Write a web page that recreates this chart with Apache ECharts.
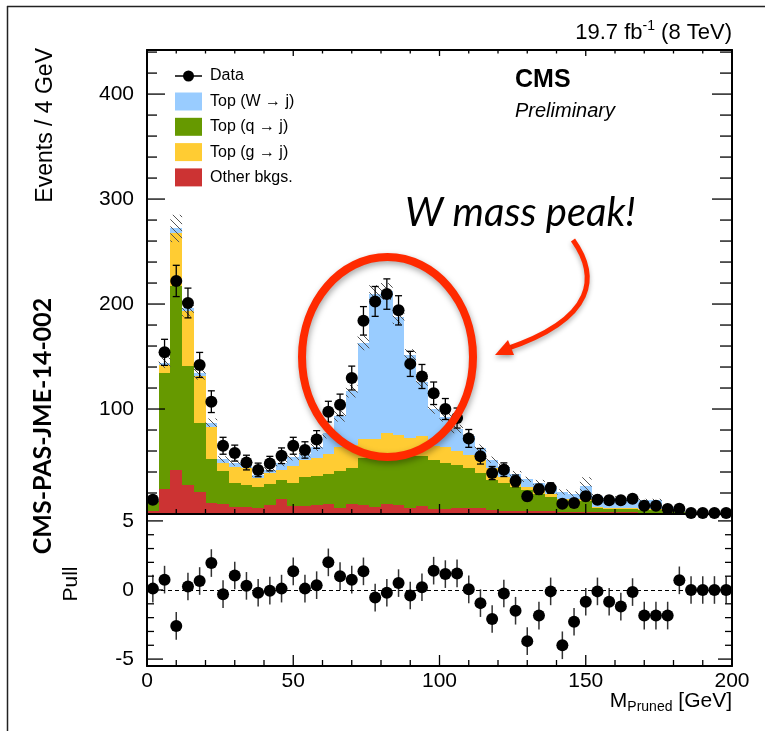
<!DOCTYPE html>
<html lang="en">
<head>
<meta charset="utf-8">
<title>Pruned jet mass - W mass peak</title>
<script src="https://cdn.jsdelivr.net/npm/echarts@6.0.0/dist/echarts.min.js"></script>
<style>
  html, body { margin: 0; padding: 0; background: #fff; }
  #chart { width: 765px; height: 731px; }
</style>
</head>
<body>
<div id="chart"></div>
<script type="text/javascript">
// 4 GeV bins from 0 to 200 GeV
var binCenters = [2, 6, 10, 14, 18, 22, 26, 30, 34, 38, 42, 46, 50, 54, 58, 62, 66, 70, 74, 78,
                  82, 86, 90, 94, 98, 102, 106, 110, 114, 118, 122, 126, 130, 134, 138, 142, 146, 150, 154, 158,
                  162, 166, 170, 174, 178, 182, 186, 190, 194, 198];
var binWidth = 4;

// stacked MC components (own height of each component)
var otherBkg = [2.5, 24, 41.5, 28, 21, 10.5, 10, 6.7, 7, 5.7, 9, 14.6, 7.3, 7.9, 8.9, 9.8, 5.7, 9.8, 8.9, 6.7,
                9.8, 8.9, 5.7, 7.9, 4.7, 5, 5.5, 5.7, 5.7, 4, 3, 3, 3, 2.5, 2.5, 2, 2, 2, 1.5, 1.5,
                1.5, 1.5, 1, 1, 1, 0.8, 0.3, 0.3, 0.3, 0.3];
var topQuark = [9.5, 110, 175.5, 113, 66, 41.5, 30.5, 22.8, 21, 20.3, 20, 18.1, 22.2, 27.3, 27.6, 28.6, 34.9, 34, 44.1, 46.6,
                44.5, 46.6, 49.3, 47.6, 47, 43.5, 41.5, 38.1, 33.3, 28.7, 26.5, 22.7, 20, 16.8, 14, 11, 10.6, 10, 4.2, 3.5,
                3.5, 3.5, 3, 3, 1, 0.7, 0.2, 0.1, 0.1, 0.1];
var topGluon = [0.5, 8, 51, 52, 44, 31, 8, 15.5, 16, 8, 10, 8.8, 16.5, 15.8, 16.5, 18.6, 23.4, 22.2, 18, 18.1,
                22.7, 20, 17.4, 18.5, 13.3, 15.5, 12.6, 12.7, 12.7, 11.1, 5.5, 3.8, 2.7, 3.7, 2.8, 1.6, 1.4, 2, 0.8, 1,
                1, 1, 1, 1, 1, 0.5, 0.2, 0.1, 0.1, 0.1];
var topW = [0.5, 2, 4, 3, 3, 4, 3.5, 4, 3, 3.5, 3, 7, 8, 6, 11, 20, 29, 51, 92, 138.6,
            135, 112.5, 78.6, 52, 35, 28, 21.4, 17.5, 11.1, 7.9, 10, 8.5, 7.3, 7, 6.7, 6.4, 5, 13, 10.5, 9,
            9, 9, 8, 8, 4, 1, 0.3, 0.1, 0.1, 0.1];
// half height of the hatched MC uncertainty band
var mcUnc = [1, 5, 13, 8, 6, 4, 3, 3, 3, 2.5, 2.5, 3, 3, 3, 4, 5, 5, 6, 7, 8,
             8, 7, 6, 5, 4.5, 4, 4, 3.5, 3.5, 3, 3, 3, 2.5, 2.5, 2.5, 2.5, 2.5, 8, 2, 2,
             2, 2, 1.5, 1.5, 1.5, 1, 0.5, 0.5, 0.5, 0.5];

var dataEvents = [13.6, 154, 222, 201, 142, 107, 65, 58, 49, 42, 48, 55.5, 65, 61, 71, 97.5, 104, 129.5, 184, 202.5,
                  209.5, 194, 143, 131, 115, 100, 91.4, 72, 55, 39, 42.2, 31.5, 16.8, 23.5, 24.7, 9.8, 10.5, 16.8, 13.6, 13.2,
                  13, 14.6, 7.9, 7.9, 4.7, 5, 1, 1, 1, 1];
var pulls = [0.1, 0.75, -2.6, 0.25, 0.65, 1.95, -0.3, 1.05, 0.3, -0.2, -0.05, 0.1, 1.35, 0.1, 0.35, 2.0, 1.0, 0.75, 1.35, -0.55,
             -0.2, 0.5, -0.4, 0.2, 1.4, 1.15, 1.2, 0.05, -0.95, -2.1, -0.25, -1.5, -3.7, -1.85, -0.1, -4.0, -2.3, -0.85, -0.1, -0.85,
             -1.2, -0.15, -1.85, -1.85, -1.85, 0.7, 0, 0, 0, 0];
var pullErr = 1;

// axis ticks
var xMajor = [0, 50, 100, 150, 200];
var xMinor = [10, 20, 30, 40, 60, 70, 80, 90, 110, 120, 130, 140, 160, 170, 180, 190];
var yMainMajor = [100, 200, 300, 400];
var yMainMinor = [20, 40, 60, 80, 120, 140, 160, 180, 220, 240, 260, 280, 320, 340, 360, 380, 420, 440];
var yPullMajor = [-5, 0, 5];
var yPullMinor = [-4, -3, -2, -1, 1, 2, 3, 4];

var FONT = 'Liberation Sans';
var colors = { other: '#cc3333', quark: '#669900', gluon: '#ffcc33', wjet: '#99ccff', note: '#ff2a00' };

var stackComps = [
    { name: 'Other bkgs.', values: otherBkg, color: colors.other },
    { name: 'Top (q \u2192 j)', values: topQuark, color: colors.quark },
    { name: 'Top (g \u2192 j)', values: topGluon, color: colors.gluon },
    { name: 'Top (W \u2192 j)', values: topW, color: colors.wjet }
];

function renderBin(params, api) {
    var tl = api.coord([api.value(0), api.value(3)]);
    var br = api.coord([api.value(1), api.value(2)]);
    var x0 = Math.round(tl[0]), x1 = Math.round(br[0]);
    var y0 = Math.round(tl[1]), y1 = Math.round(br[1]);
    return { type: 'rect', shape: { x: x0, y: y0, width: x1 - x0, height: y1 - y0 }, style: { fill: api.visual('color') } };
}

// diagonal hatching clipped to the bin rectangle
function renderHatch(params, api) {
    var tl = api.coord([api.value(0), api.value(3)]);
    var br = api.coord([api.value(1), api.value(2)]);
    var x0 = tl[0], y0 = tl[1], x1 = br[0], y1 = br[1];
    var step = 7, lines = [];
    for (var c = Math.ceil((x0 - y1) / step) * step; c <= x1 - y0; c += step) {
        var ya = Math.max(y0, x0 - c), yb = Math.min(y1, x1 - c);
        if (yb - ya > 0.5) {
            lines.push({ type: 'line', shape: { x1: ya + c, y1: ya, x2: yb + c, y2: yb }, style: { stroke: '#555', lineWidth: 1 } });
        }
    }
    return { type: 'group', children: lines };
}

function renderDataErr(params, api) {
    var top = api.coord([api.value(0), api.value(2)]);
    var bot = api.coord([api.value(0), api.value(1)]);
    var cap = 3.5, st = { stroke: '#000', lineWidth: 1.3 };
    return { type: 'group', children: [
        { type: 'line', shape: { x1: top[0], y1: top[1], x2: bot[0], y2: bot[1] }, style: st },
        { type: 'line', shape: { x1: top[0] - cap, y1: top[1], x2: top[0] + cap, y2: top[1] }, style: st },
        { type: 'line', shape: { x1: bot[0] - cap, y1: bot[1], x2: bot[0] + cap, y2: bot[1] }, style: st }
    ] };
}

function renderPullErr(params, api) {
    var top = api.coord([api.value(0), api.value(2)]);
    var bot = api.coord([api.value(0), api.value(1)]);
    return { type: 'line', shape: { x1: top[0], y1: top[1], x2: bot[0], y2: bot[1] }, style: { stroke: '#333', lineWidth: 1.5 } };
}

// inward ROOT-style ticks on every side of a pad: [value, side(0 bottom,1 top,2 left,3 right), length]
function renderTick(params, api) {
    var cs = params.coordSys;
    var v = api.value(0), side = api.value(1), len = api.value(2);
    var shape;
    if (side < 2) {
        var px = api.coord([v, 0])[0];
        var py = side === 0 ? cs.y + cs.height : cs.y;
        shape = { x1: px, y1: py, x2: px, y2: side === 0 ? py - len : py + len };
    } else {
        var qy = api.coord([0, v])[1];
        var qx = side === 2 ? cs.x : cs.x + cs.width;
        shape = { x1: qx, y1: qy, x2: side === 2 ? qx + len : qx - len, y2: qy };
    }
    return { type: 'line', shape: shape, style: { stroke: '#000', lineWidth: 1.3 } };
}
function tickRows(values, side, len) {
    return values.map(function (v) { return [v, side, len]; });
}
var mainTicks = [].concat(
    tickRows(xMajor, 0, 10), tickRows(xMinor, 0, 5),
    tickRows(xMajor, 1, 6), tickRows(xMinor, 1, 3.5),
    tickRows(yMainMajor, 2, 18), tickRows(yMainMinor, 2, 10),
    tickRows(yMainMajor, 3, 20), tickRows(yMainMinor, 3, 12));
var pullTicks = [].concat(
    tickRows(xMajor, 0, 11), tickRows(xMinor, 0, 6),
    tickRows(yPullMajor, 2, 16), tickRows(yPullMinor, 2, 7),
    tickRows(yPullMajor, 3, 14), tickRows(yPullMinor, 3, 7));

var base = binCenters.map(function () { return 0; });
var stackSeries = stackComps.map(function (c) {
    var rows = binCenters.map(function (x, i) {
        var lo = base[i];
        base[i] = lo + c.values[i];
        return [x - binWidth / 2, x + binWidth / 2, lo, base[i]];
    });
    return {
        name: c.name, type: 'custom', xAxisIndex: 0, yAxisIndex: 0, silent: true, z: 2,
        itemStyle: { color: c.color }, encode: { x: [0, 1], y: [2, 3] },
        renderItem: renderBin, data: rows
    };
});

var hatchRows = binCenters.map(function (x, i) {
    return [x - binWidth / 2, x + binWidth / 2, base[i] - mcUnc[i], base[i] + mcUnc[i]];
});
var dataErrRows = binCenters.map(function (x, i) {
    var e = Math.sqrt(dataEvents[i]);
    return [x, dataEvents[i] - e, dataEvents[i] + e];
});
var pullErrRows = binCenters.map(function (x, i) {
    return [x, pulls[i] - pullErr, pulls[i] + pullErr];
});

function xAx(grid, pos, labels) {
    return {
        type: 'value', gridIndex: grid, position: pos, min: 0, max: 200, interval: 50, z: 10,
        splitLine: { show: false },
        axisLine: { show: true, onZero: false, lineStyle: { color: '#000', width: 2 } },
        axisTick: { show: false },
        axisLabel: labels ? { show: true, fontFamily: FONT, fontSize: 21, color: '#000', margin: 5 } : { show: false }
    };
}

function yAx(grid, pos, min, max, labels) {
    return {
        type: 'value', gridIndex: grid, position: pos, min: min, max: max, z: 10,
        splitLine: { show: false },
        axisLine: { show: true, onZero: false, lineStyle: { color: '#000', width: 2 } },
        axisTick: { show: false },
        axisLabel: labels ? { show: true, customValues: labels, fontFamily: FONT, fontSize: 21, color: '#000', margin: 13 } : { show: false }
    };
}

// legend drawn by hand to match the ROOT style
var legendOrder = [3, 1, 2, 0];
var legendGraphics = [
    { type: 'line', shape: { x1: 175, y1: 76, x2: 202, y2: 76 }, style: { stroke: '#000', lineWidth: 1.5 } },
    { type: 'circle', shape: { cx: 188.5, cy: 76, r: 5.5 }, style: { fill: '#000' } },
    { type: 'text', x: 210, y: 76, style: { text: 'Data', font: '16px ' + FONT, fill: '#000', verticalAlign: 'middle' } }
];
legendOrder.forEach(function (k, j) {
    var cy = 101.5 + j * 25.3;
    legendGraphics.push({ type: 'rect', shape: { x: 175, y: cy - 9, width: 27, height: 18 }, style: { fill: stackComps[k].color } });
    legendGraphics.push({ type: 'text', x: 210, y: cy, style: { text: stackComps[k].name, font: '16px ' + FONT, fill: '#000', verticalAlign: 'middle' } });
});

var textGraphics = [
    // slide frame
    { type: 'line', shape: { x1: 7, y1: 6.5, x2: 765, y2: 6.5 }, style: { stroke: '#222', lineWidth: 1.5 } },
    { type: 'line', shape: { x1: 7.5, y1: 6, x2: 7.5, y2: 731 }, style: { stroke: '#222', lineWidth: 1.5 } },
    { type: 'text', x: 732, y: 32.5, style: {
        text: '{a|19.7 fb}{s|-1}{a| (8 TeV)}', align: 'right', verticalAlign: 'middle',
        rich: { a: { fontFamily: FONT, fontSize: 22, lineHeight: 26, color: '#000' },
                s: { fontFamily: FONT, fontSize: 14, lineHeight: 16, verticalAlign: 'top', color: '#000' } } } },
    { type: 'text', x: 515, y: 80, style: { text: 'CMS', font: 'bold 25px ' + FONT, fill: '#000', verticalAlign: 'middle' } },
    { type: 'text', x: 515, y: 111, style: { text: 'Preliminary', font: 'italic 20px ' + FONT, fill: '#000', verticalAlign: 'middle' } },
    { type: 'text', x: 46, y: 48, rotation: Math.PI / 2, style: { text: 'Events / 4 GeV', font: '23px ' + FONT, fill: '#000', align: 'right', verticalAlign: 'middle' } },
    { type: 'text', x: 71, y: 584, rotation: Math.PI / 2, style: { text: 'Pull', font: '21px ' + FONT, fill: '#000', align: 'center', verticalAlign: 'middle' } },
    { type: 'text', x: 43, y: 426, rotation: Math.PI / 2, style: { text: 'CMS-PAS-JME-14-002', font: 'bold 25px Lato', fill: '#000', align: 'center', verticalAlign: 'middle' } },
    { type: 'text', x: 732, y: 701, style: {
        text: '{m|M}{s|Pruned}{m| [GeV]}', align: 'right', verticalAlign: 'middle',
        rich: { m: { fontFamily: FONT, fontSize: 21, lineHeight: 26, color: '#000' },
                s: { fontFamily: FONT, fontSize: 14, lineHeight: 10, verticalAlign: 'bottom', color: '#000' } } } },
    // annotation
    { type: 'ellipse', z: 100, shape: { cx: 387.5, cy: 357, rx: 85.5, ry: 100 },
      style: { fill: 'transparent', stroke: colors.note, lineWidth: 8, shadowBlur: 6, shadowColor: 'rgba(0,0,0,0.35)', shadowOffsetX: 1, shadowOffsetY: 3 } },
    { type: 'bezierCurve', z: 100, shape: { x1: 573, y1: 240, cpx1: 598, cpy1: 275, cpx2: 598, cpy2: 318, x2: 506, y2: 349 },
      style: { fill: null, stroke: colors.note, lineWidth: 5, shadowBlur: 5, shadowColor: 'rgba(0,0,0,0.3)', shadowOffsetY: 3 } },
    { type: 'polygon', z: 100, shape: { points: [[495, 355], [508, 340], [514, 355]] },
      style: { fill: colors.note, shadowBlur: 5, shadowColor: 'rgba(0,0,0,0.3)', shadowOffsetY: 3 } },
    { type: 'text', z: 100, x: 405, y: 213, style: { text: 'W mass peak!', font: 'italic 40px Lato', fill: '#000', verticalAlign: 'middle' } }
];

var chart = echarts.init(document.getElementById('chart'));
var option = {
    animation: false,
    backgroundColor: '#fff',
    grid: [
        { left: 147, top: 50, width: 585, height: 464, containLabel: false, outerBoundsMode: 'none' },
        { left: 147, top: 514, width: 585, height: 152, containLabel: false, outerBoundsMode: 'none' }
    ],
    xAxis: [
        xAx(0, 'bottom', false),
        xAx(0, 'top', false),
        xAx(1, 'bottom', true)
    ],
    yAxis: [
        yAx(0, 'left', 0, 442, yMainMajor),
        yAx(0, 'right', 0, 442, null),
        yAx(1, 'left', -5.5, 5.5, yPullMajor),
        yAx(1, 'right', -5.5, 5.5, null)
    ],
    series: stackSeries.concat([
        {
            name: 'MC uncertainty', type: 'custom', xAxisIndex: 0, yAxisIndex: 0, silent: true, z: 3,
            encode: { x: [0, 1], y: [2, 3] }, renderItem: renderHatch, data: hatchRows
        },
        {
            name: 'Data error', type: 'custom', xAxisIndex: 0, yAxisIndex: 0, silent: true, z: 4,
            encode: { x: 0, y: [1, 2] }, renderItem: renderDataErr, data: dataErrRows
        },
        {
            name: 'Data', type: 'scatter', xAxisIndex: 0, yAxisIndex: 0, z: 5, clip: false,
            symbol: 'circle', symbolSize: 12, itemStyle: { color: '#000', opacity: 1 },
            data: binCenters.map(function (x, i) { return [x, dataEvents[i]]; })
        },
        {
            name: 'Main ticks', type: 'custom', xAxisIndex: 0, yAxisIndex: 0, silent: true, z: 6,
            renderItem: renderTick, data: mainTicks
        },
        {
            name: 'Pull error', type: 'custom', xAxisIndex: 2, yAxisIndex: 2, silent: true, z: 4,
            encode: { x: 0, y: [1, 2] }, renderItem: renderPullErr, data: pullErrRows
        },
        {
            name: 'Pull', type: 'scatter', xAxisIndex: 2, yAxisIndex: 2, z: 5,
            symbol: 'circle', symbolSize: 12, itemStyle: { color: '#000', opacity: 1 },
            data: binCenters.map(function (x, i) { return [x, pulls[i]]; }),
            markLine: {
                silent: true, symbol: 'none', label: { show: false },
                lineStyle: { color: '#000', width: 1, type: [4, 3] },
                data: [{ yAxis: 0 }]
            }
        },
        {
            name: 'Pull ticks', type: 'custom', xAxisIndex: 2, yAxisIndex: 2, silent: true, z: 6,
            renderItem: renderTick, data: pullTicks
        }
    ]),
    graphic: legendGraphics.concat(textGraphics).map(function (g) { g.silent = true; return g; })
};
chart.setOption(option);
</script>
</body>
</html>
